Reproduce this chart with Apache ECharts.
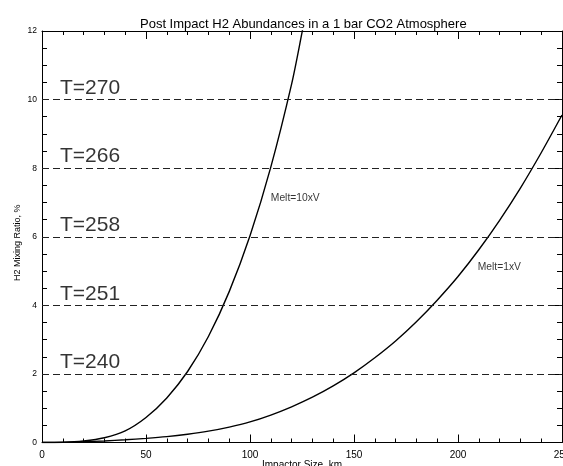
<!DOCTYPE html>
<html>
<head>
<meta charset="utf-8">
<script src="https://cdn.jsdelivr.net/npm/echarts@6/dist/echarts.min.js"></script>
<style>html,body{margin:0;padding:0;background:#fff}#c{width:563px;height:466px}</style>
</head>
<body>
<div id="c"></div>
<script>
var melt10X = [0, 10, 20, 30, 40, 50, 60, 70, 80, 90, 100, 110, 120, 125, 127];
var melt10Y = [0, 0.006, 0.045, 0.14, 0.34, 0.73, 1.3, 2.07, 3.09, 4.4, 6.03, 8.03, 10.45, 11.95, 12.6];
var melt1X = [0, 10, 20, 30, 40, 50, 60, 70, 80, 90, 100, 110, 120, 130, 140, 150, 160, 170, 180, 190, 200, 210, 220, 230, 240, 250];
var melt1Y = [0, 0.005, 0.02, 0.045, 0.08, 0.12, 0.17, 0.24, 0.33, 0.45, 0.6, 0.8, 1.04, 1.32, 1.65, 2.03, 2.47, 2.96, 3.52, 4.15, 4.84, 5.62, 6.48, 7.42, 8.45, 9.55];
var tempLevels = [2, 4, 6, 8, 10];
var tempLabels = ['T=240', 'T=251', 'T=258', 'T=266', 'T=270'];
var curveLabels = [
  {x: 110, y: 7.13, text: 'Melt=10xV'},
  {x: 209.5, y: 5.12, text: 'Melt=1xV'}
];

function pairs(xs, ys) { return xs.map(function (x, i) { return [x, ys[i]]; }); }

var FONT = 'Liberation Sans, Arial, Helvetica, sans-serif';
var chart = echarts.init(document.getElementById('c'), null, {renderer: 'canvas'});
function axisLine() { return {show: true, onZero: false, lineStyle: {color: '#000', width: 1}}; }
function tick(len) { return {show: true, inside: true, length: len, lineStyle: {color: '#000'}}; }
chart.setOption({
  animation: false,
  backgroundColor: '#fff',
  textStyle: {fontFamily: FONT},
  title: {
    text: 'Post Impact H2 Abundances in a 1 bar CO2 Atmosphere',
    left: 135, top: 13,
    textStyle: {fontSize: 13, fontWeight: 'normal', color: '#000', fontFamily: FONT}
  },
  grid: {left: 42, right: 1, top: 31, bottom: 23.5, containLabel: false, outerBoundsMode: 'none'},
  xAxis: [
    {
      type: 'value', min: 0, max: 250, interval: 50, position: 'bottom',
      name: 'Impactor Size, km', nameLocation: 'middle', nameGap: 18, nameMoveOverlap: false,
      nameTextStyle: {fontSize: 10, color: '#000', fontFamily: FONT},
      axisLine: axisLine(), splitLine: {show: false},
      axisTick: tick(8),
      minorTick: {show: true, splitNumber: 5, length: 4, lineStyle: {color: '#000'}},
      axisLabel: {fontSize: 10, color: '#000', margin: 8, fontFamily: FONT}
    },
    {
      type: 'value', min: 0, max: 250, interval: 50, position: 'top',
      axisLine: axisLine(), splitLine: {show: false},
      axisTick: tick(8),
      minorTick: {show: true, splitNumber: 5, length: 4, lineStyle: {color: '#000'}},
      axisLabel: {show: false}
    }
  ],
  yAxis: [
    {
      type: 'value', min: 0, max: 12, interval: 2, position: 'left',
      name: 'H2 Mixing Ratio, %', nameLocation: 'middle', nameGap: 20, nameMoveOverlap: false,
      nameTextStyle: {fontSize: 9, color: '#000', fontFamily: FONT, padding: [0, 12, 0, 0]},
      axisLine: axisLine(), splitLine: {show: false},
      axisTick: tick(7),
      minorTick: {show: true, splitNumber: 4, length: 5, lineStyle: {color: '#000'}},
      axisLabel: {fontSize: 8.5, color: '#000', margin: 5, fontFamily: FONT}
    },
    {
      type: 'value', min: 0, max: 12, interval: 2, position: 'right',
      axisLine: axisLine(), splitLine: {show: false},
      axisTick: tick(7),
      minorTick: {show: true, splitNumber: 4, length: 5, lineStyle: {color: '#000'}},
      axisLabel: {show: false}
    }
  ],
  series: [
    {
      type: 'line', name: 'Melt=10xV', data: pairs(melt10X, melt10Y), smooth: 0.3,
      showSymbol: false, symbol: 'none', lineStyle: {color: '#000', width: 1.4},
      markLine: {
        silent: true, symbol: 'none', label: {show: false},
        lineStyle: {color: '#222', width: 1, type: [7, 4]},
        data: tempLevels.map(function (v) { return {yAxis: v}; })
      }
    },
    {
      type: 'line', name: 'Melt=1xV', data: pairs(melt1X, melt1Y), smooth: 0.3,
      showSymbol: false, symbol: 'none', lineStyle: {color: '#000', width: 1.4}
    },
    {
      type: 'scatter', symbolSize: 0, silent: true,
      data: tempLevels.map(function (v, i) { return {value: [0, v], name: tempLabels[i]}; }),
      label: {
        show: true, formatter: function (p) { return p.name; },
        position: [18, -1], align: 'left', verticalAlign: 'bottom',
        fontSize: 21, lineHeight: 21, color: '#000', fontFamily: FONT
      }
    },
    {
      type: 'scatter', symbolSize: 0, silent: true,
      data: curveLabels.map(function (c) { return {value: [c.x, c.y], name: c.text}; }),
      label: {
        show: true, formatter: function (p) { return p.name; },
        position: [0, 0], align: 'left', verticalAlign: 'middle',
        fontSize: 10.3, color: '#000', fontFamily: FONT
      }
    }
  ]
});
</script>
</body>
</html>
